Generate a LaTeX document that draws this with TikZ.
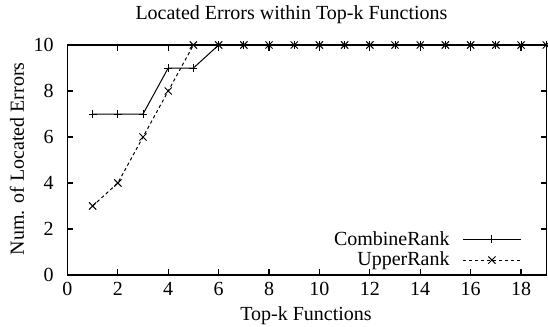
\documentclass[tikz,border=0pt]{standalone}
\usepackage{fontspec}
\setmainfont{Liberation Serif}
\usepackage{tikz}
\usetikzlibrary{positioning}
\tikzset{frame line/.style={line width=0.6pt},
  comb line/.style={line width=0.5pt},
  upper line/.style={line width=0.5pt, dash pattern=on 1.6pt off 1.4pt},
  tick lab/.style={inner sep=0pt, font=\fontsize{10}{12}\selectfont}}
\newcommand{\plusmark}[1]{\draw[comb line] ($#1+(-2pt,0)$) -- ($#1+(2pt,0)$) ($#1+(0,-2pt)$) -- ($#1+(0,2pt)$);}
\newcommand{\crossmark}[1]{\draw[comb line] ($#1+(-1.8pt,-1.8pt)$) -- ($#1+(1.8pt,1.8pt)$) ($#1+(-1.8pt,1.8pt)$) -- ($#1+(1.8pt,-1.8pt)$);}
\usetikzlibrary{calc}

\begin{document}
\begin{tikzpicture}[x=12.6pt, y=11.5pt]
\useasboundingbox (-2.675,-2.217) rectangle (19.07,11.957);

\draw[frame line] (0,0) rectangle (19,10);

\foreach \x in {0,2,...,18} {
  \draw[frame line] (\x,0) -- ++(0,2.8pt);
  \draw[frame line] (\x,10) -- ++(0,-2.8pt);
  \node[tick lab, anchor=base] (xl\x) at (\x,-0.87) {\x};
}
\foreach \y in {0,2,...,10} {
  \draw[frame line] (0,\y) -- ++(2.8pt,0);
  \draw[frame line] (19,\y) -- ++(-2.8pt,0);
  \node[tick lab, anchor=east] (yl\y) at (-0.53,\y) {\y};
}

\node[tick lab, anchor=base] (title) at (8.89,11.09) {Located Errors within Top-k Functions};
\node[tick lab, anchor=base] (xlab) at (9.47,-1.96) {Top-k Functions};
\node[tick lab, rotate=90] (ylab) at (-2.0,5.05) {Num. of Located Errors};

% CombineRank
\draw[comb line] (1,7) -- (2,7) -- (3,7) -- (4,9) -- (5,9) -- (6,10) -- (19,10);
\foreach \x/\y in {1/7,2/7,3/7,4/9,5/9} {\plusmark{(\x,\y)}}
\foreach \x in {6,...,19} {\plusmark{(\x,10)}}

% UpperRank
\draw[upper line] (1,3) -- (2,4) -- (3,6) -- (4,8) -- (5,10) -- (19,10);
\foreach \x/\y in {1/3,2/4,3/6,4/8} {\crossmark{(\x,\y)}}
\foreach \x in {5,...,19} {\crossmark{(\x,10)}}

% key
\node[tick lab, anchor=base east] (kcomb) at (15.18,1.30) {CombineRank};
\node[tick lab, anchor=base east] (kupp) at (15.18,0.43) {UpperRank};
\coordinate (kc1) at (15.69,1.565);
\coordinate (kc2) at (18.0,1.565);
\coordinate (ku1) at (15.69,0.65);
\coordinate (ku2) at (18.0,0.65);
\draw[comb line] (kc1) -- (kc2);
\draw[upper line] (ku1) -- (ku2);
\plusmark{($(kc1)!0.5!(kc2)$)}
\crossmark{($(ku1)!0.5!(ku2)$)}
\end{tikzpicture}
\end{document}
